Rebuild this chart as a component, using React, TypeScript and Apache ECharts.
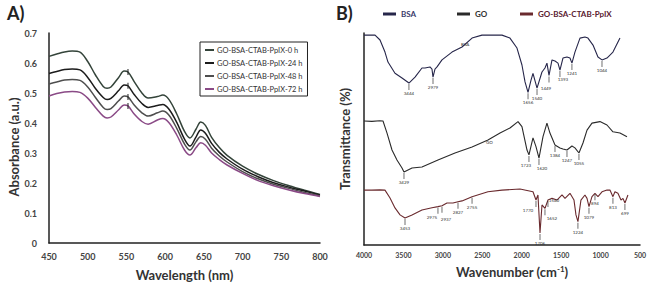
import React, { useEffect, useRef } from "react";
import * as echarts from "echarts";

// ---------- Panel A: UV-Vis ----------
const wavelengths = [450, 460, 470, 480, 490, 500, 510, 520, 525, 530, 540, 547, 552, 560, 570, 578, 590, 597, 605, 615, 625, 632, 640, 646, 652, 660, 670, 680, 700, 720, 740, 760, 780, 800];
const abs0h = [0.622, 0.63, 0.637, 0.64, 0.636, 0.605, 0.56, 0.522, 0.516, 0.52, 0.552, 0.573, 0.57, 0.538, 0.5, 0.483, 0.488, 0.493, 0.478, 0.43, 0.372, 0.35, 0.38, 0.403, 0.392, 0.352, 0.318, 0.292, 0.256, 0.229, 0.208, 0.191, 0.176, 0.162];
const abs24h = [0.565, 0.572, 0.578, 0.58, 0.577, 0.552, 0.515, 0.485, 0.478, 0.482, 0.508, 0.527, 0.524, 0.495, 0.465, 0.452, 0.458, 0.462, 0.446, 0.402, 0.346, 0.323, 0.354, 0.377, 0.366, 0.332, 0.302, 0.28, 0.246, 0.221, 0.201, 0.186, 0.173, 0.16];
const abs48h = [0.53, 0.537, 0.543, 0.545, 0.542, 0.52, 0.485, 0.452, 0.445, 0.448, 0.474, 0.49, 0.487, 0.46, 0.434, 0.423, 0.434, 0.44, 0.426, 0.382, 0.33, 0.31, 0.338, 0.355, 0.346, 0.316, 0.29, 0.27, 0.238, 0.214, 0.196, 0.182, 0.168, 0.157];
const abs72h = [0.49, 0.498, 0.503, 0.505, 0.502, 0.483, 0.452, 0.423, 0.417, 0.42, 0.444, 0.46, 0.457, 0.43, 0.405, 0.396, 0.41, 0.415, 0.401, 0.36, 0.31, 0.293, 0.318, 0.334, 0.326, 0.3, 0.278, 0.26, 0.232, 0.208, 0.191, 0.177, 0.165, 0.155];
const namesA = ["GO-BSA-CTAB-PpIX-0 h", "GO-BSA-CTAB-PpIX-24 h", "GO-BSA-CTAB-PpIX-48 h", "GO-BSA-CTAB-PpIX-72 h"];
const colorsA = ["#34443a", "#1c1c1c", "#4e4e4e", "#8a4a86"];
const markWavelength = 552;

// ---------- Panel B: FTIR ----------
const bsaWn = [4000, 3860, 3797, 3734, 3696, 3607, 3518, 3430, 3353, 3265, 3227, 3163, 3138, 3125, 3100, 3074, 3011, 2884, 2757, 2630, 2504, 2250, 2149, 2060, 1997, 1958, 1920, 1882, 1857, 1806, 1743, 1705, 1680, 1654, 1616, 1578, 1540, 1515, 1477, 1426, 1388, 1363, 1325, 1261, 1198, 1160, 1096, 1033, 982, 919, 843, 754];
const bsaT = [99, 99, 96.7, 91, 86.3, 81, 78.8, 76.4, 79.2, 83.5, 83.5, 84, 83, 79.2, 83, 84, 87.3, 91, 93.4, 97.6, 99, 99, 97.6, 92.9, 84.9, 76.9, 72, 77.8, 81, 74, 81.6, 83.5, 85.8, 80, 87.3, 86.8, 85.8, 82.5, 88.2, 88.7, 88.2, 85.8, 91, 97.6, 98.1, 97.6, 94.3, 88.7, 87.3, 88.2, 91, 97.6];
const goWn = [4000, 3900, 3800, 3759, 3708, 3645, 3582, 3518, 3493, 3391, 3265, 3062, 2846, 2630, 2428, 2275, 2149, 2047, 1997, 1933, 1908, 1857, 1819, 1781, 1730, 1680, 1642, 1578, 1515, 1477, 1426, 1363, 1325, 1274, 1223, 1172, 1109, 1008, 919, 843, 754, 665];
const goT = [58.5, 58.3, 58.6, 58.5, 52.8, 44.8, 40.1, 36.3, 34.4, 36.3, 36.8, 40.1, 43.4, 46.2, 49.5, 52.8, 55.2, 58.2, 55.8, 44.8, 42.5, 50.5, 46.4, 41, 51.1, 57.5, 52.8, 47.2, 45.8, 45.3, 44.8, 46.7, 45.8, 43.4, 48.1, 54.2, 57.5, 58.2, 56.6, 53.4, 52.8, 51.1];
const compWn = [4000, 3900, 3800, 3734, 3670, 3607, 3543, 3480, 3391, 3265, 3138, 3062, 3011, 2948, 2872, 2808, 2757, 2630, 2428, 2250, 2022, 1857, 1819, 1794, 1768, 1743, 1705, 1667, 1616, 1553, 1489, 1451, 1388, 1337, 1312, 1287, 1249, 1198, 1172, 1147, 1109, 1071, 1033, 982, 919, 881, 843, 818, 780, 741, 716, 691, 653];
const compT = [25.9, 25.9, 26, 25.9, 22.2, 17.5, 14.2, 12.7, 14.2, 16.5, 17.6, 18.1, 18.5, 19.8, 19.8, 20.4, 20.8, 22.8, 25.1, 25.9, 26.4, 25.1, 21.2, 23.6, 5.7, 18.9, 17.3, 21.2, 22, 21.2, 23.6, 22, 24.4, 21.2, 14.2, 11, 21.2, 23.6, 22, 18.1, 22.8, 24.4, 22.8, 25.1, 25.9, 25.9, 22.8, 25.1, 24.4, 21.2, 22, 19.8, 23.6];
const namesB = ["BSA", "GO", "GO-BSA-CTAB-PpIX"];
const colorsB = ["#26264a", "#2a2a2a", "#6a2a2e"];
const legendTextB = ["#3a3a6a", "#333333", "#5a2030"];

const bsaPeakWn = [3430, 3125, 1920, 1806, 1654, 1515, 1363, 982];
const bsaPeakT = [76.4, 79.2, 72, 74, 80, 82.5, 85.8, 87.3];
const bsaPeakLabels = ["3444", "2979", "1656", "1540", "1449", "1393", "1241", "1044"];
const goPeakWn = [3493, 1908, 1781, 1578, 1426, 1274];
const goPeakT = [34.4, 42.5, 41, 47.2, 44.8, 43.4];
const goPeakLabels = ["3429", "1723", "1620", "1384", "1247", "1055"];
const compPeakWn = [3480, 3062, 3011, 2808, 2630, 1819, 1768, 1705, 1667, 1287, 1147, 1071, 843, 691];
const compPeakT = [12.7, 18.1, 18.5, 20.4, 22.8, 21.2, 5.7, 17.3, 21.2, 11, 18.1, 24.4, 22.8, 19.8];
const compPeakLabels = ["3453", "2975", "2937", "2827", "2755", "1770", "1706", "1652", "1540", "1224", "1079", "894", "813", "699"];

const FONT = "Lato, 'Open Sans', sans-serif";

// label nudges (style only), per series, keyed by label text
const bsaNudge: Record<string, number[]> = { "1449": [-3, 3], "1393": [3, -1] };
const goNudge: Record<string, number[]> = { "1620": [3, 0], "1723": [-3, 0] };
const compNudge: Record<string, number[]> = {
  "2975": [-6, 0],
  "2937": [4, 3],
  "1770": [-8, 0],
  "1652": [7, 0],
  "1540": [6, -10],
};

function peakMarks(wn: number[], t: number[], labels: string[], nudge: Record<string, number[]>) {
  return {
    silent: true,
    symbol: "rect",
    symbolSize: [0.7, 6],
    symbolOffset: [0, 4],
    itemStyle: { color: "#333" },
    label: {
      show: true,
      position: "bottom",
      distance: 1,
      fontSize: 4.5,
      color: "#333",
      fontFamily: FONT,
      formatter: (p: any) => p.name,
    },
    data: wn.map((w, i) => ({
      name: labels[i],
      coord: [w, t[i]],
      label: nudge[labels[i]] ? { offset: nudge[labels[i]] } : undefined,
    })),
  };
}

export default function App() {
  const ref = useRef<HTMLDivElement>(null);
  useEffect(() => {
    const chart = echarts.init(ref.current!, null, { renderer: "svg" });
    const absSeries = [abs0h, abs24h, abs48h, abs72h];
    const seriesA = absSeries.map((vals, k) => ({
      name: namesA[k],
      type: "line",
      xAxisIndex: 0,
      yAxisIndex: 0,
      smooth: 0.35,
      showSymbol: false,
      color: colorsA[k],
      lineStyle: { width: 1.5, color: colorsA[k] },
      data: wavelengths.map((w, i) => [w, vals[i]]),
      markPoint: {
        silent: true,
        symbol: "rect",
        symbolSize: [1, 6],
        itemStyle: { color: "#222" },
        label: { show: false },
        data: [{ coord: [markWavelength, vals[wavelengths.indexOf(markWavelength)]] }],
      },
    }));
    const bWn = [bsaWn, goWn, compWn];
    const bT = [bsaT, goT, compT];
    const bPeaks = [
      peakMarks(bsaPeakWn, bsaPeakT, bsaPeakLabels, bsaNudge),
      peakMarks(goPeakWn, goPeakT, goPeakLabels, goNudge),
      peakMarks(compPeakWn, compPeakT, compPeakLabels, compNudge),
    ];
    const seriesB = namesB.map((n, k) => ({
      name: n,
      type: "line",
      xAxisIndex: 1,
      yAxisIndex: 1,
      showSymbol: false,
      color: colorsB[k],
      lineStyle: { width: 1.1, color: colorsB[k] },
      data: bWn[k].map((w, i) => [w, bT[k][i]]),
      markPoint: bPeaks[k],
    }));
    const legendBLeft = [383, 457, 520];
    const axisLine = { show: true, onZero: false, lineStyle: { color: "#222", width: 1.5 } };
    const option: any = {
      animation: false,
      backgroundColor: "#fff",
      textStyle: { fontFamily: FONT },
      grid: [
        { left: 49, top: 33, width: 271, height: 210 },
        { left: 364, top: 33, width: 276, height: 212 },
      ],
      xAxis: [
        {
          gridIndex: 0, type: "value", min: 450, max: 800, interval: 50,
          axisLine, axisTick: { show: false }, splitLine: { show: false },
          axisLabel: { fontSize: 9, fontWeight: "bold", color: "#444", margin: 9, fontFamily: FONT },
          name: "Wavelength (nm)", nameLocation: "middle", nameGap: 25,
          nameTextStyle: { fontSize: 13, fontWeight: "bold", color: "#333", fontFamily: FONT },
        },
        {
          gridIndex: 1, type: "value", min: 500, max: 4000, interval: 500, inverse: true,
          axisLine, axisTick: { show: false }, splitLine: { show: false },
          axisLabel: { fontSize: 7, fontWeight: "bold", color: "#444", margin: 6, fontFamily: FONT, formatter: (v: number) => String(v) },
          name: "Wavenumber (cm{sup|-1})", nameLocation: "middle", nameGap: 20,
          nameTextStyle: {
            fontSize: 13, fontWeight: "bold", color: "#333", fontFamily: FONT, padding: [0, 0, 0, 20],
            rich: { sup: { fontSize: 8, fontWeight: "bold", color: "#333", verticalAlign: "top", padding: [0, 0, 6, 0], fontFamily: FONT } },
          },
        },
      ],
      yAxis: [
        {
          gridIndex: 0, type: "value", min: 0, max: 0.7, interval: 0.1,
          axisLine, axisTick: { show: false }, splitLine: { show: false },
          axisLabel: { fontSize: 9, fontWeight: "bold", color: "#444", margin: 12, fontFamily: FONT },
          name: "Absorbance (a.u.)", nameLocation: "middle", nameGap: 27, nameRotate: 90,
          nameTextStyle: { fontSize: 13, fontWeight: "bold", color: "#333", fontFamily: FONT, padding: [0, 18, 0, 0] },
        },
        {
          gridIndex: 1, type: "value", min: 0, max: 100,
          axisLine, axisTick: { show: false }, splitLine: { show: false },
          axisLabel: { show: false },
          name: "Transmittance (%)", nameLocation: "middle", nameGap: 13, nameRotate: 90,
          nameTextStyle: { fontSize: 13, fontWeight: "bold", color: "#333", fontFamily: FONT },
        },
      ],
      legend: [
        {
          data: namesA, orient: "vertical", left: 200, top: 42,
          borderColor: "#222", borderWidth: 1, padding: [4, 5, 3, 5], itemGap: 5,
          itemWidth: 9, itemHeight: 2, icon: "rect",
          textStyle: { fontSize: 7.5, color: "#333", fontFamily: FONT, padding: [0, 0, 0, -2] },
        },
        ...namesB.map((n, k) => ({
          data: [n], left: legendBLeft[k], top: 10, padding: 0,
          icon: "rect", itemWidth: 13, itemHeight: 3,
          textStyle: { fontSize: 8, fontWeight: "bold", color: legendTextB[k], fontFamily: FONT },
        })),
      ],
      graphic: [
        { type: "text", left: 7, top: 4, style: { text: "A)", fontSize: 18, fontWeight: "bold", fill: "#222", fontFamily: FONT } },
        { type: "text", left: 336, top: 4, style: { text: "B)", fontSize: 18, fontWeight: "bold", fill: "#222", fontFamily: FONT } },
        { type: "text", left: 461, top: 42, style: { text: "BSA", fontSize: 4.5, fill: "#333", fontFamily: FONT } },
        { type: "text", left: 486, top: 140, style: { text: "GO", fontSize: 4.5, fill: "#333", fontFamily: FONT } },
      ],
      series: [...seriesA, ...seriesB],
    };
    chart.setOption(option);
    return () => chart.dispose();
  }, []);
  return <div ref={ref} style={{ position: "fixed", left: 0, top: 0, width: 653, height: 292, background: "#fff" }} />;
}
